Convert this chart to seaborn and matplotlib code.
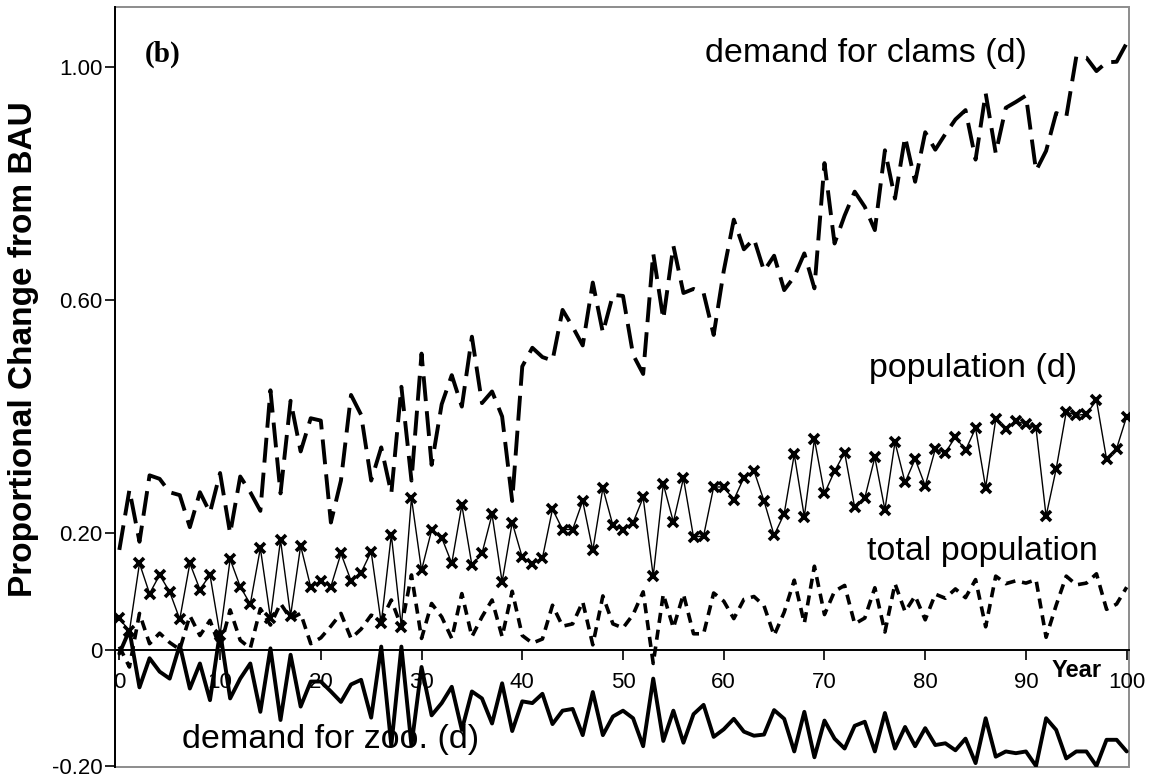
import numpy as np
import pandas as pd
import matplotlib
matplotlib.use("Agg")
import matplotlib.pyplot as plt
from matplotlib.patches import Rectangle
import seaborn as sns

# values (proportional change from BAU)
years = list(range(0, 101))

clams = [0.171, 0.274, 0.185, 0.299, 0.293, 0.270, 0.265, 0.210, 0.270, 0.235,
         0.303, 0.199, 0.297, 0.270, 0.238, 0.445, 0.268, 0.427, 0.340, 0.397,
         0.393, 0.218, 0.290, 0.437, 0.403, 0.290, 0.347, 0.268, 0.451, 0.290,
         0.508, 0.317, 0.421, 0.471, 0.417, 0.537, 0.423, 0.443, 0.400, 0.255,
         0.486, 0.518, 0.502, 0.496, 0.583, 0.554, 0.522, 0.630, 0.544, 0.609,
         0.607, 0.506, 0.473, 0.680, 0.567, 0.693, 0.612, 0.619, 0.612, 0.540,
         0.650, 0.738, 0.687, 0.705, 0.650, 0.676, 0.617, 0.640, 0.680, 0.620,
         0.835, 0.697, 0.745, 0.786, 0.760, 0.720, 0.857, 0.774, 0.880, 0.803,
         0.888, 0.858, 0.885, 0.910, 0.926, 0.841, 0.955, 0.852, 0.930, 0.940,
         0.951, 0.822, 0.856, 0.921, 0.914, 1.018, 1.016, 0.993, 1.008, 1.009,
         1.041]

population = [0.054, 0.031, 0.148, 0.096, 0.128, 0.099, 0.052, 0.148, 0.103, 0.128,
              0.025, 0.155, 0.108, 0.078, 0.174, 0.054, 0.188, 0.058, 0.178, 0.107,
              0.118, 0.108, 0.165, 0.118, 0.132, 0.168, 0.045, 0.197, 0.039, 0.260,
              0.136, 0.205, 0.192, 0.148, 0.248, 0.145, 0.165, 0.232, 0.116, 0.218,
              0.158, 0.147, 0.157, 0.241, 0.206, 0.206, 0.255, 0.170, 0.277, 0.213,
              0.206, 0.218, 0.261, 0.126, 0.284, 0.219, 0.294, 0.193, 0.195, 0.279,
              0.279, 0.257, 0.295, 0.307, 0.255, 0.196, 0.233, 0.335, 0.228, 0.361,
              0.268, 0.306, 0.338, 0.244, 0.260, 0.330, 0.240, 0.356, 0.287, 0.327,
              0.281, 0.344, 0.338, 0.365, 0.342, 0.380, 0.278, 0.395, 0.378, 0.392,
              0.387, 0.380, 0.229, 0.310, 0.408, 0.402, 0.404, 0.428, 0.327, 0.345,
              0.400]

total_pop = [0.005, -0.030, 0.062, 0.010, 0.028, 0.012, 0.000, 0.058, 0.024, 0.050,
             0.003, 0.068, 0.016, 0.002, 0.070, 0.042, 0.079, 0.053, 0.062, 0.010,
             0.020, 0.040, 0.062, 0.019, 0.035, 0.059, 0.050, 0.085, 0.039, 0.128,
             0.019, 0.079, 0.056, 0.019, 0.096, 0.022, 0.056, 0.085, 0.022, 0.100,
             0.024, 0.011, 0.018, 0.076, 0.040, 0.044, 0.082, 0.008, 0.092, 0.044,
             0.037, 0.060, 0.099, -0.024, 0.095, 0.037, 0.095, 0.027, 0.027, 0.097,
             0.083, 0.053, 0.086, 0.091, 0.075, 0.024, 0.064, 0.119, 0.045, 0.143,
             0.060, 0.100, 0.110, 0.044, 0.054, 0.106, 0.030, 0.113, 0.065, 0.092,
             0.051, 0.095, 0.088, 0.104, 0.089, 0.120, 0.039, 0.126, 0.113, 0.118,
             0.114, 0.120, 0.021, 0.076, 0.126, 0.111, 0.114, 0.130, 0.069, 0.078,
             0.107]

zoo = [-0.007, 0.033, -0.065, -0.015, -0.038, -0.050, 0.008, -0.067, -0.024, -0.087,
       0.031, -0.084, -0.050, -0.024, -0.107, 0.002, -0.121, -0.009, -0.098, -0.055,
       -0.055, -0.072, -0.090, -0.060, -0.052, -0.117, 0.005, -0.165, 0.005, -0.165,
       -0.030, -0.113, -0.092, -0.064, -0.138, -0.072, -0.084, -0.127, -0.058, -0.140,
       -0.089, -0.092, -0.076, -0.128, -0.105, -0.102, -0.147, -0.073, -0.147, -0.115,
       -0.105, -0.118, -0.166, -0.050, -0.157, -0.105, -0.160, -0.111, -0.095, -0.150,
       -0.137, -0.119, -0.141, -0.148, -0.146, -0.104, -0.119, -0.175, -0.107, -0.185,
       -0.122, -0.153, -0.170, -0.131, -0.124, -0.175, -0.109, -0.170, -0.133, -0.166,
       -0.135, -0.164, -0.161, -0.173, -0.153, -0.195, -0.118, -0.184, -0.175, -0.178,
       -0.175, -0.200, -0.118, -0.138, -0.187, -0.175, -0.175, -0.200, -0.155, -0.155,
       -0.175]

x_ticks = list(range(0, 101, 10))
y_ticks = [-0.20, 0.0, 0.20, 0.60, 1.00]
y_tick_labels = ["-0.20", "0", "0.20", "0.60", "1.00"]

df = pd.DataFrame({"year": years, "clams": clams, "population": population,
                   "total": total_pop, "zoo": zoo})

sns.set_theme(style="white")
plt.rcParams["font.family"] = ["Liberation Sans", "DejaVu Sans"]
plt.rcParams["text.color"] = "black"
plt.rcParams["axes.labelcolor"] = "black"

W, H = 1151, 781
fig = plt.figure(figsize=(W / 100, H / 100), dpi=100)
ax = fig.add_axes([115 / W, 1 - 767 / H, 1014 / W, 760 / H])

sns.lineplot(data=df, x="year", y="clams", ax=ax, color="black", lw=2.8,
             linestyle=(0, (6.4, 2.6)))
sns.lineplot(data=df, x="year", y="total", ax=ax, color="black", lw=2.6,
             linestyle=(0, (2.8, 1.9)))
sns.lineplot(data=df, x="year", y="population", ax=ax, color="black", lw=1.0,
             marker="x", markersize=7, markeredgewidth=2.6, markeredgecolor="black")
sns.lineplot(data=df, x="year", y="zoo", ax=ax, color="black", lw=2.8)

ax.set_xlim(-0.43, 100.23)
ax.set_ylim(-0.2017, 1.103)

# x axis crosses at zero, outer frame in grey
ax.spines["bottom"].set_position(("data", 0))
ax.spines["bottom"].set_color("black")
ax.spines["bottom"].set_linewidth(1.4)
ax.spines["left"].set_color("black")
ax.spines["left"].set_linewidth(1.4)
ax.spines["top"].set_visible(False)
ax.spines["right"].set_visible(False)
ax.add_patch(Rectangle((0, 0), 1, 1, transform=ax.transAxes, fill=False,
                       ec="#8c8c8c", lw=1.4, clip_on=False, zorder=0))

ax.set_xticks(x_ticks)
ax.set_xticklabels([str(v) for v in x_ticks])
ax.set_yticks(y_ticks)
ax.set_yticklabels(y_tick_labels)
ax.tick_params(axis="x", direction="out", length=7, width=1.2, pad=9,
               labelsize=16, colors="black", bottom=True)
ax.tick_params(axis="y", direction="out", length=7, width=1.2, pad=2,
               labelsize=16, colors="black", left=True)

ax.set_xlabel("")
ax.set_ylabel("Proportional Change from BAU", fontsize=24, fontweight="bold")
ax.yaxis.set_label_coords(-0.075, 0.55)

ax.text(0.0296, 0.928, "(b)", transform=ax.transAxes, fontsize=21,
        fontweight="bold", family=["Liberation Serif", "DejaVu Serif"],
        ha="left", va="baseline")
ax.text(0.741, 0.928, "demand for clams (d)", transform=ax.transAxes,
        fontsize=24.5, ha="center", va="baseline")
ax.text(0.846, 0.5136, "population (d)", transform=ax.transAxes,
        fontsize=24.5, ha="center", va="baseline")
ax.text(0.855, 0.272, "total population", transform=ax.transAxes,
        fontsize=24.5, ha="center", va="baseline")
ax.text(0.2125, 0.025, "demand for zoo. (d)", transform=ax.transAxes,
        fontsize=24.5, ha="center", va="baseline")
ax.text(0.924, 0.118, "Year", transform=ax.transAxes, fontsize=17,
        fontweight="bold", ha="left", va="baseline")

fig.savefig("out.png", dpi=100)
